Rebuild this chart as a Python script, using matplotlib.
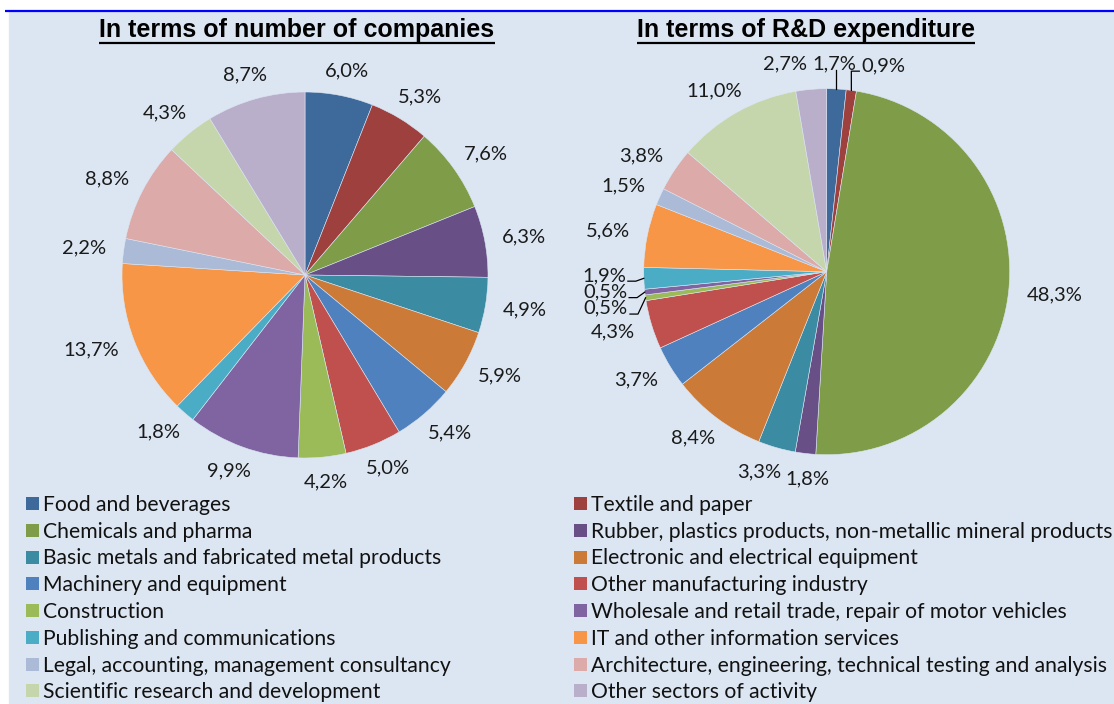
import numpy as np
import matplotlib.pyplot as plt
from matplotlib.patches import Rectangle

# ---- data -------------------------------------------------------------------
sectors = [
    "Food and beverages",
    "Textile and paper",
    "Chemicals and pharma",
    "Rubber, plastics products, non-metallic mineral products",
    "Basic metals and fabricated metal products",
    "Electronic and electrical equipment",
    "Machinery and equipment",
    "Other manufacturing industry",
    "Construction",
    "Wholesale and retail trade, repair of motor vehicles",
    "Publishing and communications",
    "IT and other information services",
    "Legal, accounting, management consultancy",
    "Architecture, engineering, technical testing and analysis",
    "Scientific research and development",
    "Other sectors of activity",
]
companies_pct = [6.0, 5.3, 7.6, 6.3, 4.9, 5.9, 5.4, 5.0, 4.2, 9.9, 1.8, 13.7, 2.2, 8.8, 4.3, 8.7]
rd_pct = [1.7, 0.9, 48.3, 1.8, 3.3, 8.4, 3.7, 4.3, 0.5, 0.5, 1.9, 5.6, 1.5, 3.8, 11.0, 2.7]

# labels of the R&D pie that were pulled away from their slice (leader lines)
rd_leaders = ["Food and beverages", "Textile and paper", "Construction",
              "Wholesale and retail trade, repair of motor vehicles",
              "Publishing and communications"]

# ---- style ------------------------------------------------------------------
colors = ["#3e6a9b", "#9e403e", "#7f9c48", "#684f86", "#3b8ba2", "#cc7a37",
          "#4e81bd", "#c0504d", "#9bbb59", "#8064a2", "#4bacc6", "#f79646",
          "#aabad7", "#dbaaa9", "#c6d6ac", "#b9afcb"]
BG = "#dce6f2"
LFONT = "Lato"
W, H = 1114, 704
R = 183

fig = plt.figure(figsize=(W / 100, H / 100), dpi=100)
ax = fig.add_axes([0, 0, 1, 1])
renderer = fig.canvas.get_renderer()


def set_limits():
    ax.set_xlim(0, W)
    ax.set_ylim(H, 0)
    ax.set_aspect("auto")


set_limits()
ax.add_patch(Rectangle((9, 12), W - 9, H - 12, color=BG, zorder=0))
ax.plot([5, W], [11, 11], color="#0000ff", lw=1.6, solid_capstyle="butt", zorder=1)


def fmt(v):
    return f"{v:.1f}%".replace(".", ",")


def draw_pie(vals, cx, cy, title, title_x, leaders=()):
    vals = np.asarray(vals, dtype=float)
    ax.pie(vals, colors=colors, center=(cx, cy), radius=R,
           startangle=-90, counterclock=True,
           wedgeprops=dict(edgecolor=BG, linewidth=0.4))
    set_limits()

    # title, underlined
    t = ax.text(title_x, 37.5, title, ha="center", va="baseline",
                fontsize=18, fontweight="bold", family="Liberation Sans")
    bb = t.get_window_extent(renderer)
    ax.plot([bb.x0, bb.x1], [43, 43], color="black", lw=1.6, solid_capstyle="butt")

    # label positions: outside end of every slice
    frac = (np.cumsum(vals) - vals / 2) / vals.sum()
    phi = 2 * np.pi * frac
    ux, uy = np.sin(phi), -np.cos(phi)
    texts, ws, hs = [], [], []
    for v in vals:
        tt = ax.text(0, 0, fmt(v), ha="center", va="center", fontsize=14.5,
                     family=LFONT, color="#1a1a1a")
        b = tt.get_window_extent(renderer)
        texts.append(tt)
        ws.append(b.width)
        hs.append(b.height * 0.85)
    ws, hs = np.array(ws), np.array(hs)
    x = cx + (R + 18) * ux + ws / 2 * ux
    y = cy + (R + 18) * uy + hs / 2 * uy

    # push overlapping labels apart
    n = len(vals)
    for _ in range(400):
        for i in range(n):
            for j in range(i + 1, n):
                ox = (ws[i] + ws[j]) / 2 + 5 - abs(x[i] - x[j])
                oy = (hs[i] + hs[j]) / 2 + 2 - abs(y[i] - y[j])
                if ox > 0 and oy > 0:
                    if abs(uy[i]) > 0.9 and abs(uy[j]) > 0.9:
                        s = np.sign(x[j] - x[i]) or 1
                        x[i] -= s * ox / 2
                        x[j] += s * ox / 2
                    else:
                        s = np.sign(y[j] - y[i]) or 1
                        y[i] -= s * oy / 2
                        y[j] += s * oy / 2

    for i, tt in enumerate(texts):
        tt.set_position((x[i], y[i]))
        if sectors[i] in leaders:
            axp, ayp = cx + R * ux[i], cy + R * uy[i]
            ly = y[i] + hs[i] * 0.4
            if x[i] - ws[i] / 2 <= axp <= x[i] + ws[i] / 2:
                ax.plot([axp, axp], [ayp, ly], color="black", lw=0.9)
            else:
                side = 1 if axp > x[i] else -1
                ex = x[i] + side * ws[i] / 2 + side * 2
                ax.plot([axp, ex + side * 8, ex], [ayp, ly, ly], color="black", lw=0.9)


draw_pie(companies_pct, 305, 275, "In terms of number of companies", 297)
draw_pie(rd_pct, 826.7, 271.7, "In terms of R&D expenditure", 806, leaders=rd_leaders)

# ---- legend (two columns, row-wise) -------------------------------------------
row0, step = 503.5, 26.75
col_x = [26, 574]
for k, (name, c) in enumerate(zip(sectors, colors)):
    col, row = k % 2, k // 2
    yc = row0 + row * step
    ax.add_patch(Rectangle((col_x[col], yc - 6.5), 13, 13, color=c, lw=0))
    ax.text(col_x[col] + 17, yc + 7.5, name, ha="left", va="baseline",
            fontsize=15.2, family=LFONT, color="#111111")

set_limits()
ax.axis("off")

fig.savefig("out.png", dpi=100)
